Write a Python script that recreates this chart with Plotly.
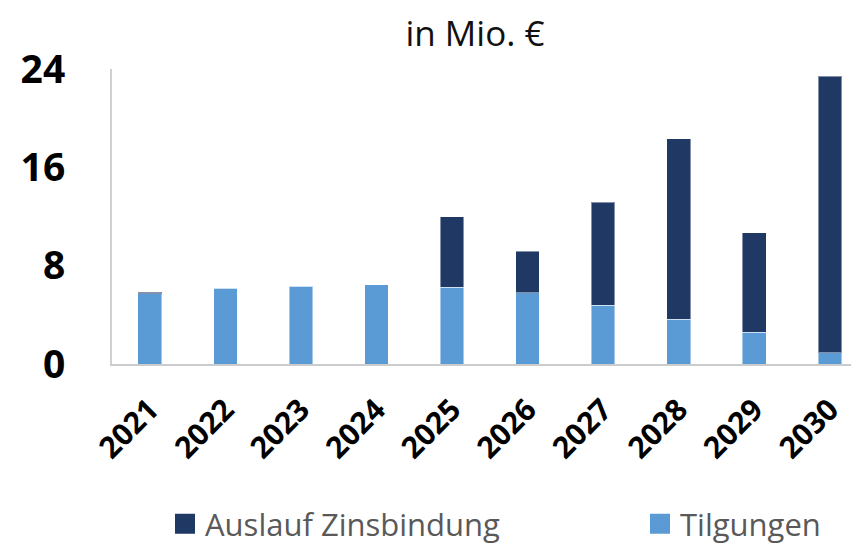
import plotly.graph_objects as go

years = ["2021", "2022", "2023", "2024", "2025", "2026", "2027", "2028", "2029", "2030"]
tilgungen = [5.70, 6.16, 6.32, 6.46, 6.24, 5.81, 4.78, 3.64, 2.58, 0.90]
auslauf_zinsbindung = [0.12, 0, 0, 0, 5.75, 3.38, 8.40, 14.67, 8.08, 22.51]
y_ticks = [0, 8, 16, 24]

name_auslauf = "Auslauf Zinsbindung"
name_tilg = "Tilgungen"
title_text = "in Mio. €"

c_dark = "#203864"
c_light = "#5B9BD5"
font_family = "Open Sans, Lato, sans-serif"

# The page places the figure 8px from the top-left corner, so size it to fill the rest.
W, H = 851, 536
L, T, B = 104, 61, 180
PW, PH = W - L, H - T - B

fig = go.Figure()
fig.add_trace(go.Bar(
    x=years, y=tilgungen, name=name_tilg, legendgroup="t", showlegend=False,
    marker=dict(color=c_light, line=dict(color="rgba(255,255,255,0.45)", width=1)),
))
fig.add_trace(go.Bar(
    x=years, y=auslauf_zinsbindung, name=name_auslauf, legendgroup="a", showlegend=False,
    marker=dict(color=c_dark, line=dict(color="rgba(255,255,255,0.45)", width=1)),
))
# legend entries (square keys)
fig.add_trace(go.Scatter(
    x=[None], y=[None], mode="markers", name=name_auslauf, legendgroup="a", legend="legend",
    marker=dict(symbol="square", size=16, color=c_dark, line=dict(color=c_dark, width=4)),
))
fig.add_trace(go.Scatter(
    x=[None], y=[None], mode="markers", name=name_tilg, legendgroup="t", legend="legend2",
    marker=dict(symbol="square", size=16, color=c_light, line=dict(color=c_light, width=4)),
))

legend_common = dict(
    orientation="h", xanchor="left",
    y=-(516 - (T + PH)) / PH, yanchor="middle",
    font=dict(size=31, color="#595959", family=font_family),
    itemwidth=30, bgcolor="rgba(0,0,0,0)",
)

fig.update_layout(
    width=W, height=H,
    barmode="stack", bargap=0.688,
    plot_bgcolor="white", paper_bgcolor="white",
    margin=dict(l=L, r=0, t=T, b=B, pad=0, autoexpand=False),
    font=dict(family=font_family, color="#000000"),
    title=dict(text=title_text, x=467 / W, xanchor="center", y=1 - 26 / H, yanchor="middle",
               font=dict(size=35, color="#111111", family=font_family)),
    showlegend=True,
    legend=dict(x=(157 - L) / PW, **legend_common),
    legend2=dict(x=(632 - L) / PW, **legend_common),
)
fig.update_xaxes(
    type="category", range=[-0.5, 9.386], automargin=False,
    showline=True, linecolor="#cccccc", linewidth=2,
    showgrid=False, ticks="", tickangle=-45, ticklabelstandoff=14,
    tickfont=dict(size=30, family=font_family, color="#000000", weight="bold"),
    fixedrange=True,
)
fig.update_yaxes(
    range=[0, 24], tickvals=y_ticks, ticktext=[str(v) for v in y_ticks], automargin=False,
    showline=True, linecolor="#d0d0d0", linewidth=2,
    showgrid=False, zeroline=False, ticks="",
    ticklabelstandoff=37,
    tickfont=dict(size=39, family=font_family, color="#000000", weight="bold"),
    fixedrange=True,
)

fig.write_html("out.html")
